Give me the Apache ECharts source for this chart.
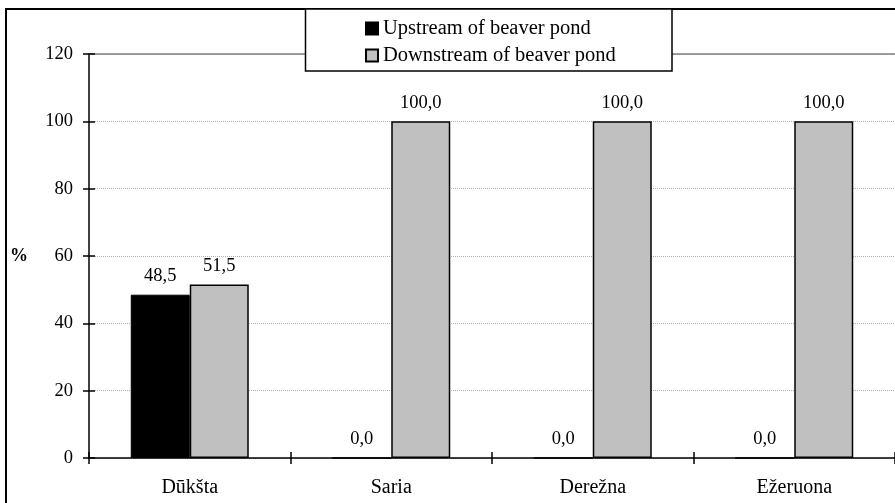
<!DOCTYPE html>
<html>
<head>
<meta charset="utf-8">
<script src="https://cdn.jsdelivr.net/npm/echarts@6/dist/echarts.min.js"></script>
<style>
html,body{margin:0;padding:0;background:#fff;}
#chart{width:895px;height:503px;}
</style>
</head>
<body>
<div id="chart"></div>
<script>
var categories = ['Dūkšta', 'Saria', 'Derežna', 'Ežeruona'];
var upstream = [48.5, 0.0, 0.0, 0.0];
var downstream = [51.5, 100.0, 100.0, 100.0];
var seriesNames = ['Upstream of beaver pond', 'Downstream of beaver pond'];
var yTicks = { min: 0, max: 120, interval: 20 };

var FONT = '"Liberation Serif", "Times New Roman", serif';
var chart = echarts.init(document.getElementById('chart'), null, { renderer: 'canvas' });

function fmt(p) { return p.value.toFixed(1).replace('.', ','); }

var grid = { left: 89, top: 54, width: 812, height: 404, containLabel: false };

var option = {
  backgroundColor: '#fff',
  animation: false,
  textStyle: { fontFamily: FONT, color: '#000' },
  grid: grid,
  graphic: [
    {
      type: 'rect', z: 1, silent: true,
      shape: { x: 6, y: 9, width: 1000, height: 1000 },
      style: { fill: 'none', stroke: '#000', lineWidth: 2 }
    },
    {
      type: 'rect', z: 10, silent: true,
      shape: { x: 305.5, y: 9, width: 366.5, height: 62 },
      style: { fill: '#fff', stroke: '#000', lineWidth: 1.5 }
    }
  ],
  legend: {
    z: 20,
    orient: 'vertical',
    left: 360,
    top: 13,
    itemWidth: 12,
    itemHeight: 12,
    itemGap: 6,
    icon: 'rect',
    textStyle: { fontFamily: FONT, fontSize: 20.5, color: '#000', padding: [0, 0, 0, 0] },
    data: seriesNames
  },
  xAxis: [
    {
      type: 'category', data: categories, position: 'bottom',
      axisLine: { show: true, lineStyle: { color: '#000', width: 1.5 } },
      axisTick: { show: true, inside: false, length: 6, lineStyle: { color: '#000', width: 1.5 } },
      axisLabel: { fontFamily: FONT, fontSize: 20, color: '#000', margin: 20 },
      splitLine: { show: false }
    },
    {
      type: 'category', data: categories, position: 'bottom',
      axisLine: { show: false },
      axisTick: { show: true, inside: true, length: 6, lineStyle: { color: '#000', width: 1.5 } },
      axisLabel: { show: false },
      splitLine: { show: false }
    },
    {
      type: 'category', data: categories, position: 'top',
      axisLine: { show: true, lineStyle: { color: '#808080', width: 1.5 } },
      axisTick: { show: false },
      axisLabel: { show: false },
      splitLine: { show: false }
    }
  ],
  yAxis: [
    {
      type: 'value', min: yTicks.min, max: yTicks.max, interval: yTicks.interval, position: 'left',
      name: '%', nameLocation: 'middle', nameRotate: 0, nameGap: 61,
      nameTextStyle: { fontFamily: FONT, fontSize: 18, fontWeight: 'bold', color: '#000' },
      axisLine: { show: true, lineStyle: { color: '#000', width: 1.5 } },
      axisTick: { show: true, inside: false, length: 6, lineStyle: { color: '#000', width: 1.5 } },
      axisLabel: { fontFamily: FONT, fontSize: 18.5, color: '#000', margin: 16 },
      splitLine: { show: true, lineStyle: { color: '#b0b0b0', type: 'dotted', width: 1 } }
    },
    {
      type: 'value', min: yTicks.min, max: yTicks.max, interval: yTicks.interval, position: 'left',
      axisLine: { show: false },
      axisTick: { show: true, inside: true, length: 6, lineStyle: { color: '#000', width: 1.5 } },
      axisLabel: { show: false },
      splitLine: { show: false }
    }
  ],
  series: [
    {
      name: seriesNames[0], type: 'bar', data: upstream, xAxisIndex: 0, yAxisIndex: 0,
      barWidth: 59, barGap: '0%',
      itemStyle: { color: '#000', borderColor: '#000', borderWidth: 1 },
      label: { show: true, position: 'top', distance: 9, formatter: fmt, fontFamily: FONT, fontSize: 18.5, color: '#000' }
    },
    {
      name: seriesNames[1], type: 'bar', data: downstream, xAxisIndex: 0, yAxisIndex: 0,
      barWidth: 59, barGap: '0%',
      itemStyle: { color: '#c0c0c0', borderColor: '#000', borderWidth: 1.5 },
      label: { show: true, position: 'top', distance: 9, formatter: fmt, fontFamily: FONT, fontSize: 18.5, color: '#000' }
    }
  ]
};
chart.setOption(option);
</script>
</body>
</html>
